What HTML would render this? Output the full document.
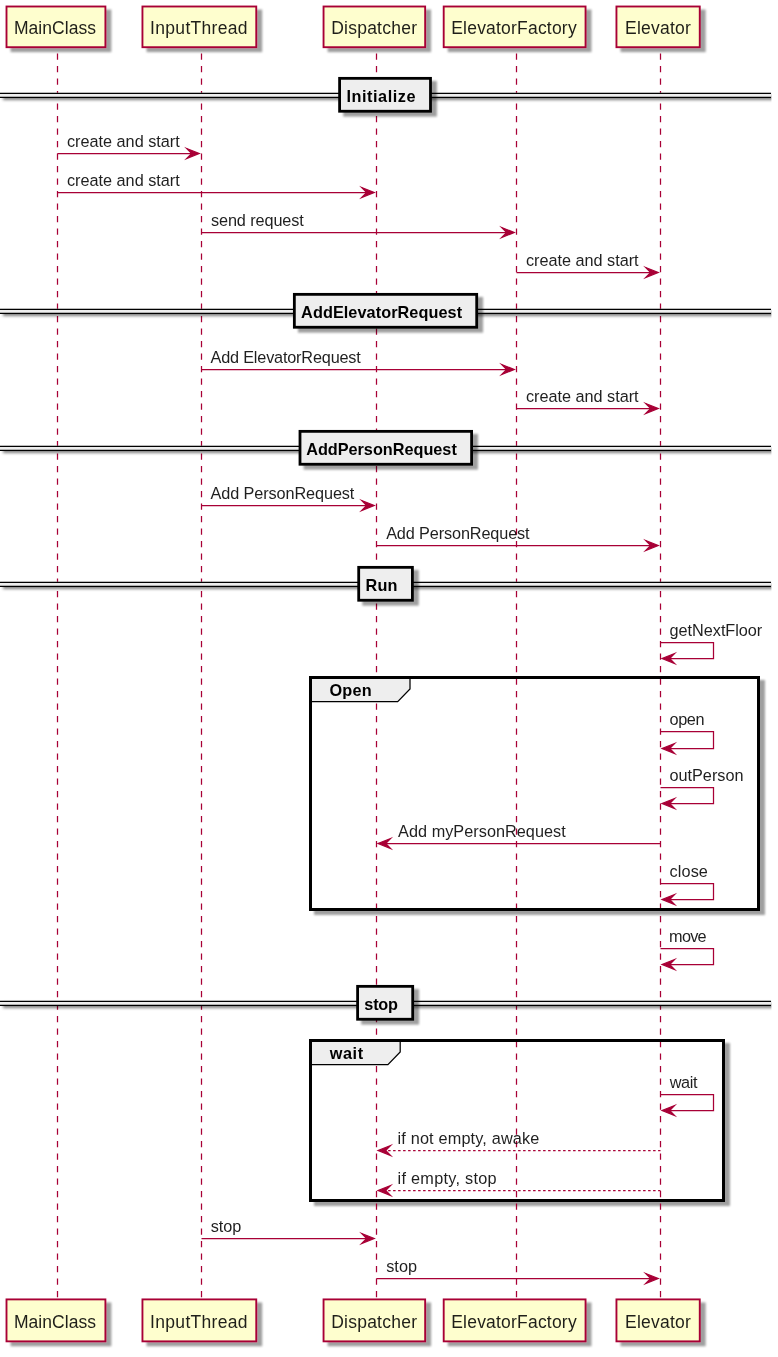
<!DOCTYPE html>
<html><head><meta charset="utf-8"><title>Elevator sequence diagram</title>
<style>
html,body{margin:0;padding:0;background:#fff;}
svg{display:block;will-change:transform;}
text{font-family:"Liberation Sans",sans-serif;fill:#000;}
</style></head><body>
<svg width="778" height="1357" viewBox="0 0 778 1357">
<defs>
<filter id="sh" x="-20%" y="-50%" width="150%" height="220%">
<feGaussianBlur in="SourceAlpha" stdDeviation="1.3" result="b"/>
<feOffset in="b" dx="5.0" dy="4.2" result="o"/>
<feComponentTransfer in="o" result="s"><feFuncA type="linear" slope="0.38"/></feComponentTransfer>
<feMerge><feMergeNode in="s"/><feMergeNode in="SourceGraphic"/></feMerge>
</filter>
<clipPath id="cl"><rect x="0" y="0" width="771.4" height="1357"/></clipPath>
<filter id="sh3" x="-2%" y="-100%" width="104%" height="400%">
<feGaussianBlur in="SourceAlpha" stdDeviation="1.5" result="b"/>
<feOffset in="b" dx="5.5" dy="2.0" result="o"/>
<feComponentTransfer in="o" result="s"><feFuncA type="linear" slope="0.5"/></feComponentTransfer>
<feMerge><feMergeNode in="s"/><feMergeNode in="SourceGraphic"/></feMerge>
</filter>
</defs>
<rect width="778" height="1357" fill="#fff"/>
<rect x="310.5" y="677.5" width="448.00" height="232.00" fill="#fff" stroke="#000" stroke-width="3" filter="url(#sh)"/>
<rect x="310.5" y="1040.5" width="413.00" height="160.00" fill="#fff" stroke="#000" stroke-width="3" filter="url(#sh)"/>
<line x1="57.5" y1="53.6" x2="57.5" y2="1298.0" stroke="#A80036" stroke-width="1.25" stroke-dasharray="6.25 6.25"/>
<line x1="201.5" y1="53.6" x2="201.5" y2="1298.0" stroke="#A80036" stroke-width="1.25" stroke-dasharray="6.25 6.25"/>
<line x1="376.5" y1="53.6" x2="376.5" y2="1298.0" stroke="#A80036" stroke-width="1.25" stroke-dasharray="6.25 6.25"/>
<line x1="516.5" y1="53.6" x2="516.5" y2="1298.0" stroke="#A80036" stroke-width="1.25" stroke-dasharray="6.25 6.25"/>
<line x1="660.5" y1="53.6" x2="660.5" y2="1298.0" stroke="#A80036" stroke-width="1.25" stroke-dasharray="6.25 6.25"/>
<rect x="6.5" y="6.5" width="98.90" height="40.70" fill="#FEFECE" stroke="#A80036" stroke-width="1.875" filter="url(#sh)"/>
<text x="13.99" y="34.10" font-size="17.5" fill-opacity="0.88" textLength="81.99" lengthAdjust="spacing">MainClass</text>
<rect x="142.45" y="6.5" width="113.80" height="40.70" fill="#FEFECE" stroke="#A80036" stroke-width="1.875" filter="url(#sh)"/>
<text x="150.12" y="34.10" font-size="17.5" fill-opacity="0.88" textLength="97.42" lengthAdjust="spacing">InputThread</text>
<rect x="323.55" y="6.5" width="101.60" height="40.70" fill="#FEFECE" stroke="#A80036" stroke-width="1.875" filter="url(#sh)"/>
<text x="331.17" y="34.10" font-size="17.5" fill-opacity="0.88" textLength="85.81" lengthAdjust="spacing">Dispatcher</text>
<rect x="443.7" y="6.5" width="141.85" height="40.70" fill="#FEFECE" stroke="#A80036" stroke-width="1.875" filter="url(#sh)"/>
<text x="451.22" y="34.10" font-size="17.5" fill-opacity="0.88" textLength="125.42" lengthAdjust="spacing">ElevatorFactory</text>
<rect x="616.45" y="6.5" width="83.30" height="40.70" fill="#FEFECE" stroke="#A80036" stroke-width="1.875" filter="url(#sh)"/>
<text x="625.08" y="34.10" font-size="17.5" fill-opacity="0.88" textLength="65.69" lengthAdjust="spacing">Elevator</text>
<rect x="6.5" y="1299.4" width="98.90" height="41.95" fill="#FEFECE" stroke="#A80036" stroke-width="1.875" filter="url(#sh)"/>
<text x="13.99" y="1328.30" font-size="17.5" fill-opacity="0.88" textLength="81.99" lengthAdjust="spacing">MainClass</text>
<rect x="142.45" y="1299.4" width="113.80" height="41.95" fill="#FEFECE" stroke="#A80036" stroke-width="1.875" filter="url(#sh)"/>
<text x="150.12" y="1328.30" font-size="17.5" fill-opacity="0.88" textLength="97.42" lengthAdjust="spacing">InputThread</text>
<rect x="323.55" y="1299.4" width="101.60" height="41.95" fill="#FEFECE" stroke="#A80036" stroke-width="1.875" filter="url(#sh)"/>
<text x="331.17" y="1328.30" font-size="17.5" fill-opacity="0.88" textLength="85.81" lengthAdjust="spacing">Dispatcher</text>
<rect x="443.7" y="1299.4" width="141.85" height="41.95" fill="#FEFECE" stroke="#A80036" stroke-width="1.875" filter="url(#sh)"/>
<text x="451.22" y="1328.30" font-size="17.5" fill-opacity="0.88" textLength="125.42" lengthAdjust="spacing">ElevatorFactory</text>
<rect x="616.45" y="1299.4" width="83.30" height="41.95" fill="#FEFECE" stroke="#A80036" stroke-width="1.875" filter="url(#sh)"/>
<text x="625.08" y="1328.30" font-size="17.5" fill-opacity="0.88" textLength="65.69" lengthAdjust="spacing">Elevator</text>
<rect x="-3" y="92.80" width="774" height="5.2" fill="#EEEEEE" filter="url(#sh3)" clip-path="url(#cl)"/>
<line x1="0" y1="93.40" x2="771" y2="93.40" stroke="#000" stroke-width="1.25"/>
<line x1="0" y1="97.40" x2="771" y2="97.40" stroke="#000" stroke-width="1.25"/>
<rect x="339.60" y="78.35" width="90.90" height="32.90" fill="#EEEEEE" stroke="#000" stroke-width="2.8" filter="url(#sh)"/>
<text x="346.56" y="102.00" font-size="16.25" font-weight="bold" textLength="68.87" lengthAdjust="spacing">Initialize</text>
<rect x="-3" y="308.80" width="774" height="5.2" fill="#EEEEEE" filter="url(#sh3)" clip-path="url(#cl)"/>
<line x1="0" y1="309.40" x2="771" y2="309.40" stroke="#000" stroke-width="1.25"/>
<line x1="0" y1="313.40" x2="771" y2="313.40" stroke="#000" stroke-width="1.25"/>
<rect x="294.35" y="294.35" width="182.35" height="32.90" fill="#EEEEEE" stroke="#000" stroke-width="2.8" filter="url(#sh)"/>
<text x="301.11" y="318.00" font-size="16.25" font-weight="bold" textLength="160.95" lengthAdjust="spacing">AddElevatorRequest</text>
<rect x="-3" y="445.80" width="774" height="5.2" fill="#EEEEEE" filter="url(#sh3)" clip-path="url(#cl)"/>
<line x1="0" y1="446.40" x2="771" y2="446.40" stroke="#000" stroke-width="1.25"/>
<line x1="0" y1="450.40" x2="771" y2="450.40" stroke="#000" stroke-width="1.25"/>
<rect x="300.00" y="431.35" width="171.60" height="32.90" fill="#EEEEEE" stroke="#000" stroke-width="2.8" filter="url(#sh)"/>
<text x="306.15" y="455.00" font-size="16.25" font-weight="bold" textLength="150.65" lengthAdjust="spacing">AddPersonRequest</text>
<rect x="-3" y="581.80" width="774" height="5.2" fill="#EEEEEE" filter="url(#sh3)" clip-path="url(#cl)"/>
<line x1="0" y1="582.40" x2="771" y2="582.40" stroke="#000" stroke-width="1.25"/>
<line x1="0" y1="586.40" x2="771" y2="586.40" stroke="#000" stroke-width="1.25"/>
<rect x="358.70" y="567.35" width="53.70" height="32.90" fill="#EEEEEE" stroke="#000" stroke-width="2.8" filter="url(#sh)"/>
<text x="365.62" y="591.00" font-size="16.25" font-weight="bold" textLength="31.87" lengthAdjust="spacing">Run</text>
<rect x="-3" y="1000.80" width="774" height="5.2" fill="#EEEEEE" filter="url(#sh3)" clip-path="url(#cl)"/>
<line x1="0" y1="1001.40" x2="771" y2="1001.40" stroke="#000" stroke-width="1.25"/>
<line x1="0" y1="1005.40" x2="771" y2="1005.40" stroke="#000" stroke-width="1.25"/>
<rect x="357.60" y="986.35" width="55.10" height="32.90" fill="#EEEEEE" stroke="#000" stroke-width="2.8" filter="url(#sh)"/>
<text x="364.29" y="1010.00" font-size="16.25" font-weight="bold" textLength="33.76" lengthAdjust="spacing">stop</text>
<polygon points="310.5,677.5 410.0,677.5 410.0,689.00 397.70,701.60 310.5,701.60" fill="#EEEEEE" stroke="#000" stroke-width="1.25"/>
<rect x="310.5" y="677.5" width="448.00" height="232.00" fill="none" stroke="#000" stroke-width="3"/>
<text x="329.56" y="696.30" font-size="16.25" font-weight="bold" textLength="42.01" lengthAdjust="spacing">Open</text>
<polygon points="310.5,1040.5 400.2,1040.5 400.2,1052.00 387.90,1064.60 310.5,1064.60" fill="#EEEEEE" stroke="#000" stroke-width="1.25"/>
<rect x="310.5" y="1040.5" width="413.00" height="160.00" fill="none" stroke="#000" stroke-width="3"/>
<text x="329.64" y="1059.30" font-size="16.25" font-weight="bold" textLength="33.54" lengthAdjust="spacing">wait</text>
<line x1="57.5" y1="153.5" x2="194.20" y2="153.5" stroke="#A80036" stroke-width="1.25"/>
<polygon points="186.70,148.50 199.20,153.50 186.70,158.50 191.70,153.50" fill="#A80036" stroke="#A80036" stroke-width="1.25" stroke-miterlimit="10"/>
<text x="67.02" y="147.40" font-size="16.25" fill-opacity="0.88" textLength="112.68" lengthAdjust="spacing">create and start</text>
<line x1="57.5" y1="192.5" x2="369.20" y2="192.5" stroke="#A80036" stroke-width="1.25"/>
<polygon points="361.70,187.50 374.20,192.50 361.70,197.50 366.70,192.50" fill="#A80036" stroke="#A80036" stroke-width="1.25" stroke-miterlimit="10"/>
<text x="67.02" y="186.40" font-size="16.25" fill-opacity="0.88" textLength="112.68" lengthAdjust="spacing">create and start</text>
<line x1="201.5" y1="232.5" x2="509.20" y2="232.5" stroke="#A80036" stroke-width="1.25"/>
<polygon points="501.70,227.50 514.20,232.50 501.70,237.50 506.70,232.50" fill="#A80036" stroke="#A80036" stroke-width="1.25" stroke-miterlimit="10"/>
<text x="210.95" y="226.40" font-size="16.25" fill-opacity="0.88" textLength="92.88" lengthAdjust="spacing">send request</text>
<line x1="516.5" y1="272.5" x2="653.20" y2="272.5" stroke="#A80036" stroke-width="1.25"/>
<polygon points="645.70,267.50 658.20,272.50 645.70,277.50 650.70,272.50" fill="#A80036" stroke="#A80036" stroke-width="1.25" stroke-miterlimit="10"/>
<text x="526.02" y="266.40" font-size="16.25" fill-opacity="0.88" textLength="112.60" lengthAdjust="spacing">create and start</text>
<line x1="201.5" y1="369.5" x2="509.20" y2="369.5" stroke="#A80036" stroke-width="1.25"/>
<polygon points="501.70,364.50 514.20,369.50 501.70,374.50 506.70,369.50" fill="#A80036" stroke="#A80036" stroke-width="1.25" stroke-miterlimit="10"/>
<text x="210.47" y="363.40" font-size="16.25" fill-opacity="0.88" textLength="150.34" lengthAdjust="spacing">Add ElevatorRequest</text>
<line x1="516.5" y1="408.5" x2="653.20" y2="408.5" stroke="#A80036" stroke-width="1.25"/>
<polygon points="645.70,403.50 658.20,408.50 645.70,413.50 650.70,408.50" fill="#A80036" stroke="#A80036" stroke-width="1.25" stroke-miterlimit="10"/>
<text x="526.02" y="402.40" font-size="16.25" fill-opacity="0.88" textLength="112.60" lengthAdjust="spacing">create and start</text>
<line x1="201.5" y1="505.5" x2="369.20" y2="505.5" stroke="#A80036" stroke-width="1.25"/>
<polygon points="361.70,500.50 374.20,505.50 361.70,510.50 366.70,505.50" fill="#A80036" stroke="#A80036" stroke-width="1.25" stroke-miterlimit="10"/>
<text x="210.47" y="499.40" font-size="16.25" fill-opacity="0.88" textLength="143.92" lengthAdjust="spacing">Add PersonRequest</text>
<line x1="376.5" y1="545.5" x2="653.20" y2="545.5" stroke="#A80036" stroke-width="1.25"/>
<polygon points="645.70,540.50 658.20,545.50 645.70,550.50 650.70,545.50" fill="#A80036" stroke="#A80036" stroke-width="1.25" stroke-miterlimit="10"/>
<text x="386.13" y="539.40" font-size="16.25" fill-opacity="0.88" textLength="143.49" lengthAdjust="spacing">Add PersonRequest</text>
<polyline points="660.50,642.50 713.5,642.50 713.5,658.50 667.10,658.50" fill="none" stroke="#A80036" stroke-width="1.25"/>
<polygon points="674.60,653.50 662.10,658.50 674.60,663.50 669.60,658.50" fill="#A80036" stroke="#A80036" stroke-width="1.25" stroke-miterlimit="10"/>
<text x="669.56" y="636.40" font-size="16.25" fill-opacity="0.88" textLength="92.73" lengthAdjust="spacing">getNextFloor</text>
<polyline points="660.50,731.50 713.5,731.50 713.5,748.50 667.10,748.50" fill="none" stroke="#A80036" stroke-width="1.25"/>
<polygon points="674.60,743.50 662.10,748.50 674.60,753.50 669.60,748.50" fill="#A80036" stroke="#A80036" stroke-width="1.25" stroke-miterlimit="10"/>
<text x="669.54" y="725.40" font-size="16.25" fill-opacity="0.88" textLength="34.93" lengthAdjust="spacing">open</text>
<polyline points="660.50,787.50 713.5,787.50 713.5,803.50 667.10,803.50" fill="none" stroke="#A80036" stroke-width="1.25"/>
<polygon points="674.60,798.50 662.10,803.50 674.60,808.50 669.60,803.50" fill="#A80036" stroke="#A80036" stroke-width="1.25" stroke-miterlimit="10"/>
<text x="669.54" y="781.40" font-size="16.25" fill-opacity="0.88" textLength="73.90" lengthAdjust="spacing">outPerson</text>
<line x1="383.10" y1="843.5" x2="660.5" y2="843.5" stroke="#A80036" stroke-width="1.25"/>
<polygon points="390.60,838.50 378.10,843.50 390.60,848.50 385.60,843.50" fill="#A80036" stroke="#A80036" stroke-width="1.25" stroke-miterlimit="10"/>
<text x="398.09" y="837.40" font-size="16.25" fill-opacity="0.88" textLength="167.66" lengthAdjust="spacing">Add myPersonRequest</text>
<polyline points="660.50,883.50 713.5,883.50 713.5,899.50 667.10,899.50" fill="none" stroke="#A80036" stroke-width="1.25"/>
<polygon points="674.60,894.50 662.10,899.50 674.60,904.50 669.60,899.50" fill="#A80036" stroke="#A80036" stroke-width="1.25" stroke-miterlimit="10"/>
<text x="669.53" y="877.40" font-size="16.25" fill-opacity="0.88" textLength="38.38" lengthAdjust="spacing">close</text>
<polyline points="660.50,948.50 713.5,948.50 713.5,964.50 667.10,964.50" fill="none" stroke="#A80036" stroke-width="1.25"/>
<polygon points="674.60,959.50 662.10,964.50 674.60,969.50 669.60,964.50" fill="#A80036" stroke="#A80036" stroke-width="1.25" stroke-miterlimit="10"/>
<text x="669.11" y="942.40" font-size="16.25" fill-opacity="0.88" textLength="37.54" lengthAdjust="spacing">move</text>
<polyline points="660.50,1094.50 713.5,1094.50 713.5,1110.50 667.10,1110.50" fill="none" stroke="#A80036" stroke-width="1.25"/>
<polygon points="674.60,1105.50 662.10,1110.50 674.60,1115.50 669.60,1110.50" fill="#A80036" stroke="#A80036" stroke-width="1.25" stroke-miterlimit="10"/>
<text x="669.66" y="1088.40" font-size="16.25" fill-opacity="0.88" textLength="27.96" lengthAdjust="spacing">wait</text>
<line x1="383.10" y1="1150.5" x2="660.5" y2="1150.5" stroke="#A80036" stroke-width="1.25" stroke-dasharray="2.5 2.5"/>
<polygon points="390.60,1145.50 378.10,1150.50 390.60,1155.50 385.60,1150.50" fill="#A80036" stroke="#A80036" stroke-width="1.25" stroke-miterlimit="10"/>
<text x="397.53" y="1144.40" font-size="16.25" fill-opacity="0.88" textLength="141.87" lengthAdjust="spacing">if not empty, awake</text>
<line x1="383.10" y1="1190.5" x2="660.5" y2="1190.5" stroke="#A80036" stroke-width="1.25" stroke-dasharray="2.5 2.5"/>
<polygon points="390.60,1185.50 378.10,1190.50 390.60,1195.50 385.60,1190.50" fill="#A80036" stroke="#A80036" stroke-width="1.25" stroke-miterlimit="10"/>
<text x="397.53" y="1184.40" font-size="16.25" fill-opacity="0.88" textLength="99.12" lengthAdjust="spacing">if empty, stop</text>
<line x1="201.5" y1="1238.5" x2="369.20" y2="1238.5" stroke="#A80036" stroke-width="1.25"/>
<polygon points="361.70,1233.50 374.20,1238.50 361.70,1243.50 366.70,1238.50" fill="#A80036" stroke="#A80036" stroke-width="1.25" stroke-miterlimit="10"/>
<text x="210.76" y="1232.40" font-size="16.25" fill-opacity="0.88" textLength="30.43" lengthAdjust="spacing">stop</text>
<line x1="376.5" y1="1278.5" x2="653.20" y2="1278.5" stroke="#A80036" stroke-width="1.25"/>
<polygon points="645.70,1273.50 658.20,1278.50 645.70,1283.50 650.70,1278.50" fill="#A80036" stroke="#A80036" stroke-width="1.25" stroke-miterlimit="10"/>
<text x="386.14" y="1272.40" font-size="16.25" fill-opacity="0.88" textLength="30.97" lengthAdjust="spacing">stop</text>
</svg>
</body></html>
